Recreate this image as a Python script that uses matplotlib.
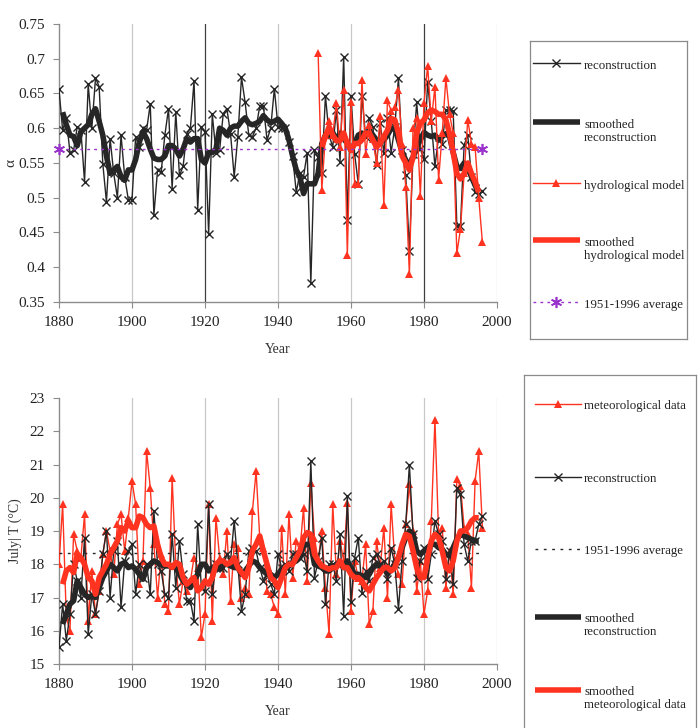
import numpy as np
import matplotlib
matplotlib.use("Agg")
import matplotlib.pyplot as plt
from matplotlib.lines import Line2D
from matplotlib.ticker import FormatStrFormatter

plt.rcParams['font.family'] = ['Liberation Serif', 'DejaVu Serif']

# ---------------- data: top panel (alpha) ----------------
rec_years = np.arange(1880, 1997)
rec_alpha = [
    0.656, 0.597, 0.615, 0.565, 0.568, 0.602, 0.597, 0.523, 0.663, 0.600,   # 1880-1889
    0.672, 0.660, 0.549, 0.494, 0.585, 0.535, 0.500, 0.590, 0.530, 0.497,   # 1890-1899
    0.497, 0.588, 0.573, 0.600, 0.597, 0.635, 0.475, 0.540, 0.537, 0.590,   # 1900-1909
    0.628, 0.513, 0.623, 0.532, 0.545, 0.592, 0.600, 0.668, 0.483, 0.602,   # 1910-1919
    0.595, 0.448, 0.620, 0.565, 0.568, 0.621, 0.628, 0.592, 0.530, 0.588,   # 1920-1929
    0.673, 0.637, 0.590, 0.588, 0.600, 0.632, 0.632, 0.583, 0.600, 0.657,   # 1930-1939
    0.602, 0.600, 0.600, 0.580, 0.560, 0.508, 0.535, 0.530, 0.565, 0.377,   # 1940-1949
    0.568, 0.558, 0.535, 0.647, 0.590, 0.573, 0.626, 0.552, 0.703, 0.468,   # 1950-1959
    0.647, 0.563, 0.520, 0.647, 0.588, 0.614, 0.602, 0.547, 0.607, 0.565,   # 1960-1969
    0.614, 0.565, 0.602, 0.672, 0.568, 0.532, 0.424, 0.563, 0.637, 0.570,   # 1970-1979
    0.555, 0.667, 0.610, 0.545, 0.588, 0.578, 0.626, 0.626, 0.625, 0.460,   # 1980-1989
    0.460, 0.576, 0.590, 0.530, 0.508, 0.505, 0.510,                        # 1990-1996
]
smooth_years = np.arange(1881, 1996)
rec_alpha_smooth = [
    0.623, 0.605, 0.590, 0.588, 0.575, 0.595, 0.600, 0.605, 0.620,          # 1881-1889
    0.628, 0.610, 0.590, 0.560, 0.535, 0.540, 0.545, 0.530, 0.525, 0.540,   # 1890-1899
    0.540, 0.555, 0.580, 0.595, 0.585, 0.570, 0.557, 0.555, 0.555, 0.560,   # 1900-1909
    0.575, 0.575, 0.570, 0.560, 0.570, 0.585, 0.580, 0.585, 0.585, 0.555,   # 1910-1919
    0.550, 0.565, 0.565, 0.570, 0.600, 0.597, 0.590, 0.600, 0.603, 0.603,   # 1920-1929
    0.610, 0.615, 0.607, 0.605, 0.607, 0.610, 0.618, 0.612, 0.608, 0.610,   # 1930-1939
    0.613, 0.607, 0.600, 0.583, 0.560, 0.540, 0.530, 0.506, 0.520, 0.520,   # 1940-1949
    0.520, 0.535, 0.578, 0.590, 0.588, 0.594, 0.582, 0.593, 0.585, 0.578,   # 1950-1959
    0.568, 0.578, 0.590, 0.593, 0.590, 0.597, 0.590, 0.583, 0.580, 0.583,   # 1960-1969
    0.590, 0.600, 0.600, 0.583, 0.566, 0.554, 0.547, 0.558, 0.573, 0.583,   # 1970-1979
    0.594, 0.590, 0.588, 0.590, 0.583, 0.588, 0.592, 0.588, 0.565, 0.545,   # 1980-1989
    0.542, 0.550, 0.545, 0.530, 0.518, 0.515,                               # 1990-1995
]
hyd_years = np.arange(1951, 1997)
hyd_alpha = [
    0.708, 0.511, 0.590, 0.610, 0.590, 0.636, 0.573, 0.655, 0.417,          # 1951-1959
    0.637, 0.520, 0.520, 0.670, 0.563, 0.605, 0.584, 0.550, 0.617, 0.490,   # 1960-1969
    0.640, 0.625, 0.630, 0.655, 0.578, 0.516, 0.390, 0.600, 0.615, 0.503,   # 1970-1979
    0.636, 0.690, 0.610, 0.660, 0.526, 0.593, 0.672, 0.620, 0.593, 0.420,   # 1980-1989
    0.455, 0.535, 0.612, 0.578, 0.573, 0.500, 0.436,                        # 1990-1996
]
hyd_smooth_years = np.arange(1952, 1996)
hyd_alpha_smooth = [
    0.573, 0.588, 0.602, 0.590, 0.582, 0.582, 0.593, 0.578,                 # 1952-1959
    0.568, 0.578, 0.578, 0.583, 0.593, 0.593, 0.583, 0.573, 0.578, 0.588,   # 1960-1969
    0.597, 0.614, 0.612, 0.593, 0.560, 0.550, 0.540, 0.558, 0.593, 0.607,   # 1970-1979
    0.612, 0.622, 0.626, 0.624, 0.620, 0.620, 0.612, 0.592, 0.565, 0.535,   # 1980-1989
    0.527, 0.535, 0.550, 0.535, 0.523, 0.508,                               # 1990-1995
]
avg_years = [1880, 1996]
alpha_avg = [0.570, 0.570]

# ---------------- data: bottom panel (July T) ----------------
met_T = [
    18.0, 19.8, 16.4, 16.0, 18.9, 18.4, 18.2, 19.5, 16.3, 17.8,   # 1880-1889
    16.5, 17.2, 18.3, 19.0, 18.4, 17.7, 19.2, 19.5, 18.4, 19.4,   # 1890-1899
    20.5, 19.8, 17.4, 18.1, 21.4, 20.3, 18.6, 17.0, 18.3, 16.8,   # 1900-1909
    16.6, 20.6, 18.0, 16.8, 17.5, 17.2, 17.5, 18.2, 17.9, 15.8,   # 1910-1919
    16.5, 19.8, 16.3, 19.4, 18.2, 17.7, 19.0, 16.9, 18.6, 18.5,   # 1920-1929
    17.0, 17.3, 17.1, 19.6, 20.8, 18.8, 18.5, 17.2, 17.1, 16.7,   # 1930-1939
    16.5, 19.1, 17.1, 19.5, 17.6, 18.7, 18.4, 19.7, 17.5, 20.45,  # 1940-1949
    18.8, 18.1, 19.0, 17.3, 15.9, 19.8, 17.7, 18.7, 18.1, 19.85,  # 1950-1959
    16.6, 18.1, 17.6, 17.5, 18.6, 16.2, 16.6, 18.7, 17.9, 19.1,   # 1960-1969
    17.0, 19.8, 18.1, 17.7, 17.4, 19.2, 20.4, 19.0, 17.2, 18.1,   # 1970-1979
    16.5, 17.2, 19.3, 22.35, 18.9, 19.1, 17.3, 18.4, 17.1, 20.55, # 1980-1989
    20.35, 19.1, 18.9, 17.3, 20.5, 21.4, 19.1,                    # 1990-1996
]
rec_T = [
    15.5, 16.8, 15.7, 16.5, 18.0, 17.5, 17.0, 18.8, 15.9, 17.1,   # 1880-1889
    16.5, 17.2, 18.3, 19.0, 17.0, 18.4, 18.7, 16.7, 18.1, 18.4,   # 1890-1899
    18.6, 17.1, 18.0, 17.6, 18.0, 17.1, 19.6, 18.0, 17.8, 17.1,   # 1900-1909
    17.0, 18.9, 17.3, 18.7, 17.7, 16.9, 16.9, 16.3, 19.2, 17.3,   # 1910-1919
    17.2, 19.8, 17.1, 18.0, 17.9, 17.9, 18.3, 18.1, 19.3, 18.0,   # 1920-1929
    16.6, 17.1, 18.4, 18.5, 18.4, 17.9, 17.5, 17.7, 17.4, 17.1,   # 1930-1939
    18.3, 17.9, 18.0, 17.8, 18.3, 18.3, 18.2, 18.3, 17.8, 21.1,   # 1940-1949
    17.6, 18.1, 18.8, 16.8, 18.0, 18.0, 17.5, 18.9, 16.45, 20.05, # 1950-1959
    16.85, 18.2, 18.8, 17.15, 17.8, 17.5, 18.2, 18.3, 18.0, 18.1, # 1960-1969
    17.55, 18.5, 18.0, 16.65, 18.1, 19.2, 21.0, 18.9, 17.6, 18.1, # 1970-1979
    18.5, 17.55, 18.3, 19.3, 18.9, 18.7, 17.55, 18.4, 17.4, 20.3, # 1980-1989
    20.1, 18.6, 18.1, 18.7, 18.7, 19.2, 19.45,                    # 1990-1996
]
rec_T_smooth = [
    16.2, 16.5, 16.8, 16.9, 17.5, 17.3, 17.1, 17.0, 17.05,        # 1881-1889
    17.0, 17.3, 17.6, 17.8, 18.0, 17.9, 17.8, 18.0, 18.05, 17.9,  # 1890-1899
    17.95, 17.85, 17.7, 17.55, 17.9, 18.0, 18.1, 18.05, 18.0, 17.95,  # 1900-1909
    17.95, 17.95, 17.9, 17.7, 17.5, 17.4, 17.3, 17.5, 17.7, 18.0,     # 1910-1919
    18.0, 17.8, 17.9, 17.95, 17.85, 18.0, 18.0, 17.95, 17.9, 17.9,    # 1920-1929
    17.7, 17.8, 17.95, 18.1, 18.05, 17.9, 17.8, 17.7, 17.7, 17.6,     # 1930-1939
    17.7, 17.85, 17.95, 17.95, 18.05, 18.1, 18.2, 18.55, 18.6, 18.6,  # 1940-1949
    18.0, 17.95, 17.9, 17.8, 17.8, 17.9, 18.0, 18.0, 17.9, 18.1,      # 1950-1959
    17.9, 17.7, 17.7, 17.65, 17.6, 17.7, 17.9, 18.0, 17.95, 17.9,     # 1960-1969
    17.7, 17.85, 18.0, 18.2, 18.5, 18.8, 19.0, 18.9, 18.4, 18.3,      # 1970-1979
    18.4, 18.5, 18.6, 18.6, 18.5, 18.45, 18.3, 18.25, 18.5, 18.75,    # 1980-1989
    18.9, 18.85, 18.8, 18.75, 18.7, 18.7,                             # 1990-1995
]
met_T_smooth = [
    17.4, 17.8, 17.9, 17.75, 18.3, 18.2, 18.0, 17.6, 17.5,            # 1881-1889
    17.1, 17.6, 17.8, 18.0, 18.3, 18.5, 18.7, 19.1, 19.0, 19.3,       # 1890-1899
    19.1, 19.1, 19.45, 19.4, 19.2, 19.1, 19.15, 18.6, 18.2, 18.0,     # 1900-1909
    18.0, 17.9, 18.05, 18.0, 17.6, 17.4, 17.5, 17.6, 17.2, 17.3,      # 1910-1919
    17.5, 17.4, 17.6, 18.0, 18.1, 18.1, 18.0, 18.05, 18.2, 17.9,      # 1920-1929
    17.75, 17.6, 17.9, 18.4, 18.6, 18.85, 18.4, 18.0, 17.6, 17.5,     # 1930-1939
    17.3, 17.6, 17.9, 18.0, 18.0, 18.2, 18.4, 18.8, 18.95, 18.9,      # 1940-1949
    18.3, 18.1, 17.95, 17.9, 17.85, 17.9, 17.9, 18.1, 17.9, 17.9,     # 1950-1959
    17.7, 17.6, 17.6, 17.5, 17.3, 17.2, 17.4, 17.6, 17.75, 17.9,      # 1960-1969
    17.9, 17.8, 17.9, 18.2, 18.6, 18.9, 18.85, 18.4, 17.9, 17.6,      # 1970-1979
    17.6, 18.2, 18.7, 18.9, 18.8, 18.4, 17.9, 17.8, 18.1, 18.7,       # 1980-1989
    19.0, 19.0, 19.1, 19.3, 19.4, 19.4,                               # 1990-1995
]
T_avg = [18.35, 18.35]

# ---------------- styles ----------------
BLACK = '#262626'
RED = '#ff3320'
PURPLE = '#9933cc'
GRID = '#c8c8c8'
SPINE = '#8c8c8c'
ASTER = (6, 2, 0)

rec_style = dict(color=BLACK, lw=1.0, marker='x', ms=6, mew=1.0)
obs_style = dict(color=RED, lw=1.0, marker='^', ms=5.5, mew=0)
rec_sm_style = dict(color=BLACK, lw=4.0, solid_capstyle='butt')
obs_sm_style = dict(color=RED, lw=4.0, solid_capstyle='butt')
avg_top_style = dict(color=PURPLE, lw=1.0, ls=(0, (2, 3)), marker=ASTER, ms=8, mew=1.2)
avg_bot_style = dict(color=BLACK, lw=1.0, ls=(0, (2, 4)))


def style_axes(ax, dark_years=()):
    ax.set_xlim(1880, 2000)
    ax.set_xticks(np.arange(1880, 2001, 20))
    for s in ('top', 'right'):
        ax.spines[s].set_visible(False)
    for s in ('left', 'bottom'):
        ax.spines[s].set_color(SPINE)
        ax.spines[s].set_linewidth(1.0)
    for yr in range(1900, 2001, 20):
        c = '#404040' if yr in dark_years else GRID
        ax.axvline(yr, color=c, lw=0.9, zorder=0)
    ax.tick_params(direction='out', length=4, color=SPINE, labelsize=11,
                   labelcolor='#222222', pad=6)


def draw_legend(fig, rect, entries):
    lax = fig.add_axes(rect)
    lax.set_xlim(0, 1)
    lax.set_ylim(0, 1)
    lax.set_xticks([])
    lax.set_yticks([])
    for s in lax.spines.values():
        s.set_color('#8a8a8a')
        s.set_linewidth(0.9)
    x0, x1, xt = entries['x']
    for y, style, label in entries['items']:
        st = dict(style)
        marker = st.pop('marker', None)
        ms = st.pop('ms', None)
        mew = st.pop('mew', None)
        lax.add_line(Line2D([x0, x1], [y, y], **st))
        if marker is not None:
            lax.plot([(x0 + x1) / 2], [y], ls='none', marker=marker, ms=ms,
                     mew=mew, color=st['color'])
        lax.text(xt, y + 0.012, label, fontsize=9.3, va='top', ha='left',
                 color='#222222', linespacing=1.15)
    return lax


fig = plt.figure(figsize=(6.99, 7.28), dpi=100)

# ---------------- top panel ----------------
ax1 = fig.add_axes([0.0844, 0.5852, 0.6266, 0.3819])
style_axes(ax1, dark_years=(1920, 1980))
ax1.plot(rec_years, rec_alpha, zorder=3, **rec_style)
ax1.plot(smooth_years, rec_alpha_smooth, zorder=4, **rec_sm_style)
ax1.plot(hyd_years, hyd_alpha, zorder=5, **obs_style)
ax1.plot(hyd_smooth_years, hyd_alpha_smooth, zorder=6, **obs_sm_style)
ax1.plot(avg_years, alpha_avg, zorder=7, clip_on=False, **avg_top_style)
ax1.set_ylim(0.35, 0.75)
ax1.set_yticks(np.arange(0.35, 0.751, 0.05))
ax1.yaxis.set_major_formatter(FormatStrFormatter('%g'))
ax1.set_xlabel('Year', fontsize=10, color='#333333', labelpad=10)
ax1.set_ylabel('\u03b1', fontsize=11, color='#333333', labelpad=1)

draw_legend(fig, [0.758, 0.5343, 0.2246, 0.4093], {
    'x': (0.02, 0.318, 0.345),
    'items': [
        (0.926, rec_style, 'reconstruction'),
        (0.728, dict(rec_sm_style), 'smoothed\nreconstruction'),
        (0.523, obs_style, 'hydrological model'),
        (0.332, dict(obs_sm_style), 'smoothed\nhydrological model'),
        (0.124, avg_top_style, '1951-1996 average'),
    ],
})

# ---------------- bottom panel ----------------
ax2 = fig.add_axes([0.0844, 0.0879, 0.6266, 0.3654])
style_axes(ax2)
ax2.plot(rec_years, met_T, zorder=3, **obs_style)
ax2.plot(rec_years, rec_T, zorder=4, **rec_style)
ax2.plot(avg_years, T_avg, zorder=5, **avg_bot_style)
ax2.plot(smooth_years, rec_T_smooth, zorder=6, **rec_sm_style)
ax2.plot(smooth_years, met_T_smooth, zorder=7, **obs_sm_style)
ax2.set_ylim(15, 23)
ax2.set_yticks(np.arange(15, 24, 1))
ax2.set_xlabel('Year', fontsize=10, color='#333333', labelpad=10)
ax2.set_ylabel('July| T (\u00b0C)', fontsize=10, color='#333333', labelpad=6)

draw_legend(fig, [0.7496, -0.0096, 0.2461, 0.4945], {
    'x': (0.064, 0.331, 0.35),
    'items': [
        (0.919, obs_style, 'meteorological data'),
        (0.717, rec_style, 'reconstruction'),
        (0.517, avg_bot_style, '1951-1996 average'),
        (0.328, dict(rec_sm_style), 'smoothed\nreconstruction'),
        (0.125, dict(obs_sm_style), 'smoothed\nmeteorological data'),
    ],
})

fig.savefig('out.png', dpi=100)
